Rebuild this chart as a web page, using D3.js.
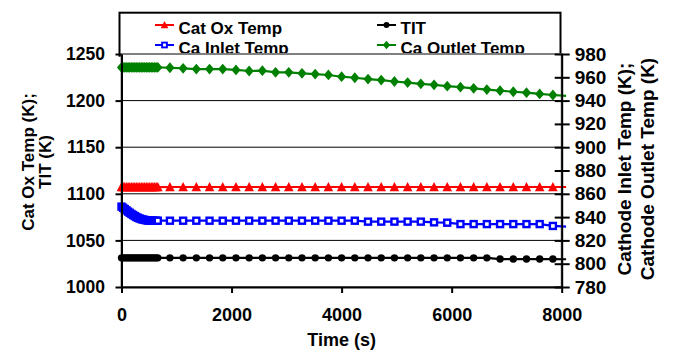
<!DOCTYPE html>
<html>
<head>
<meta charset="utf-8">
<script src="https://cdn.jsdelivr.net/npm/d3@7"></script>
<style>
  html, body { margin: 0; padding: 0; background: #fff; }
  svg { display: block; font-family: "Liberation Sans", Arial, sans-serif; font-weight: bold; }
</style>
</head>
<body>
<div id="chart"></div>
<script>
// time points (s): dense logging for the first minutes, then every 240 s
const times = [
  0, 30, 60, 90, 120, 150, 180, 210, 240, 270, 300, 330, 360, 390, 420, 450, 480, 510, 540, 570, 600, 630, 660,
  880, 1120, 1360, 1600, 1840, 2080, 2320, 2560, 2800, 3040, 3280, 3520, 3760, 4000, 4240, 4480, 4720, 4960,
  5200, 5440, 5680, 5920, 6160, 6400, 6640, 6880, 7120, 7360, 7600, 7840, 8080
];

// left axis (K)
const catOxTemp = [
  1107.2, 1107.2, 1107.2, 1107.2, 1107.2, 1107.2, 1107.2, 1107.2, 1107.2, 1107.2, 1107.2, 1107.2,
  1107.2, 1107.2, 1107.2, 1107.2, 1107.2, 1107.2, 1107.2, 1107.2, 1107.2, 1107.2, 1107.2,
  1107.3, 1107.3, 1107.3, 1107.3, 1107.3, 1107.3, 1107.3, 1107.3, 1107.3, 1107.3, 1107.3, 1107.3,
  1107.3, 1107.3, 1107.3, 1107.3, 1107.3, 1107.3, 1107.3, 1107.3, 1107.3, 1107.3, 1107.3, 1107.3,
  1107.3, 1107.3, 1107.3, 1107.3, 1107.3, 1107.3, 1107.3
];
const tit = [
  1031.3, 1031.3, 1031.3, 1031.3, 1031.3, 1031.3, 1031.3, 1031.3, 1031.3, 1031.3, 1031.3, 1031.3,
  1031.3, 1031.3, 1031.3, 1031.3, 1031.3, 1031.3, 1031.3, 1031.3, 1031.3, 1031.3, 1031.3,
  1031.3, 1031.3, 1031.3, 1031.3, 1031.3, 1031.3, 1031.3, 1031.3, 1031.3, 1031.3, 1031.3, 1031.3,
  1031.3, 1031.3, 1031.3, 1031.3, 1031.3, 1031.3, 1031.3, 1031.3, 1031.3, 1031.3, 1031.3, 1031.3,
  1031.3, 1030.0, 1030.0, 1030.0, 1030.0, 1030.0, 1029.8
];

// right axis (K)
const caInletTemp = [
  849.0, 848.0, 846.9, 845.8, 844.7, 843.7, 842.7, 841.8, 840.9, 840.1, 839.4, 838.8,
  838.3, 837.9, 837.6, 837.3, 837.1, 837.0, 836.9, 836.9, 836.9, 836.9, 836.9,
  836.9, 836.9, 836.9, 836.9, 836.9, 836.9, 836.9, 836.9, 836.9, 836.9, 836.9, 836.9,
  836.9, 836.9, 836.9, 836.1, 836.1, 836.1, 836.1, 836.1, 835.5, 835.2, 834.0, 834.0,
  834.0, 834.0, 834.0, 834.0, 834.0, 832.4, 831.8
];
const caOutletTemp = [
  968.5, 968.5, 968.5, 968.5, 968.5, 968.5, 968.5, 968.5, 968.5, 968.5, 968.5, 968.5,
  968.5, 968.5, 968.5, 968.5, 968.5, 968.5, 968.5, 968.5, 968.5, 968.5, 968.5,
  968.2, 967.7, 967.1, 967.1, 967.1, 966.3, 965.4, 965.7, 964.3, 964.3, 963.4, 962.8,
  962.0, 960.5, 959.6, 958.5, 957.6, 956.4, 955.5, 954.4, 953.5, 952.4, 951.5, 950.5,
  949.5, 948.5, 947.6, 946.8, 945.7, 944.8, 944.0
];

const xTicks = [0, 2000, 4000, 6000, 8000];
const leftTicks = [1000, 1050, 1100, 1150, 1200, 1250];
const rightTicks = [780, 800, 820, 840, 860, 880, 900, 920, 940, 960, 980];

const series = [
  { name: 'Cat Ox Temp', values: catOxTemp, axis: 'left', color: '#ff0000', marker: 'triangle' },
  { name: 'TIT', values: tit, axis: 'left', color: '#000000', marker: 'circle' },
  { name: 'Ca Inlet Temp', values: caInletTemp, axis: 'right', color: '#0000ff', marker: 'square' },
  { name: 'Ca Outlet Temp', values: caOutletTemp, axis: 'right', color: '#008000', marker: 'diamond' }
];

const W = 675, H = 351;
const plot = { left: 121.5, right: 561.7, top: 54, bottom: 287 };

const svg = d3.select('#chart').append('svg')
  .attr('width', W).attr('height', H);

const x = d3.scaleLinear().domain([0, 8000]).range([plot.left, plot.right]);
const yL = d3.scaleLinear().domain([1000, 1250]).range([plot.bottom, plot.top]);
const yR = d3.scaleLinear().domain([780, 980]).range([plot.bottom, plot.top]);

function drawMarker(g, type, color) {
  if (type === 'triangle') {
    g.append('path').attr('d', 'M0,-5L4.8,4.2L-4.8,4.2Z').attr('fill', color);
  } else if (type === 'circle') {
    g.append('circle').attr('r', 3.7).attr('fill', color);
  } else if (type === 'square') {
    g.append('rect').attr('x', -3).attr('y', -3).attr('width', 6).attr('height', 6)
      .attr('fill', '#fff').attr('stroke', color).attr('stroke-width', 2.4);
  } else if (type === 'diamond') {
    g.append('path').attr('d', 'M0,-5.4L4.6,0L0,5.4L-4.6,0Z').attr('fill', color);
  }
}

// legend (drawn first, the plot area covers its lower edge)
const legend = svg.append('g');
legend.append('rect')
  .attr('x', 119.5).attr('y', 12.7).attr('width', 441).attr('height', 43)
  .attr('fill', '#fff').attr('stroke', '#000').attr('stroke-width', 2);

const legendPos = [
  { lx: 155, ly: 25 }, { lx: 377, ly: 25 }, { lx: 155, ly: 45 }, { lx: 377, ly: 45 }
];
series.forEach((s, i) => {
  const p = legendPos[i];
  const g = legend.append('g');
  g.append('line')
    .attr('x1', p.lx).attr('x2', p.lx + 19).attr('y1', p.ly).attr('y2', p.ly)
    .attr('stroke', s.color).attr('stroke-width', 2);
  drawMarker(g.append('g').attr('transform', `translate(${p.lx + 9.5},${p.ly}) scale(0.8)`), s.marker, s.color);
  g.append('text')
    .attr('x', p.lx + 23.5).attr('y', p.ly + 8.6)
    .attr('font-size', 17).attr('fill', '#000')
    .text(s.name);
});

// plot area
svg.append('rect')
  .attr('x', plot.left).attr('y', plot.top)
  .attr('width', plot.right - plot.left).attr('height', plot.bottom - plot.top)
  .attr('fill', '#fff').attr('stroke', '#808080').attr('stroke-width', 2);

// gridlines on left axis
svg.append('g')
  .selectAll('line')
  .data(leftTicks.filter(d => d > 1000 && d < 1250))
  .enter()
  .append('line')
  .attr('x1', plot.left).attr('x2', plot.right)
  .attr('y1', d => yL(d)).attr('y2', d => yL(d))
  .attr('stroke', '#000').attr('stroke-width', 1);

// series
series.forEach(s => {
  const y = s.axis === 'left' ? yL : yR;
  const pts = times.map((t, i) => ({ t, v: s.values[i] }));
  const line = d3.line().x(d => x(d.t)).y(d => y(d.v));
  svg.append('path')
    .datum(pts)
    .attr('d', line)
    .attr('fill', 'none')
    .attr('stroke', s.color)
    .attr('stroke-width', 2.2);

  svg.append('g')
    .selectAll('g')
    .data(pts.filter(d => d.t <= 8000))
    .enter()
    .append('g')
    .attr('transform', d => `translate(${x(d.t)},${y(d.v)})`)
    .each(function() { drawMarker(d3.select(this), s.marker, s.color); });
});

// axes
function styleAxis(g, size) {
  g.select('.domain').attr('stroke', '#000').attr('stroke-width', 2);
  g.selectAll('.tick line').attr('stroke', '#000').attr('stroke-width', 2);
  g.selectAll('.tick text')
    .attr('fill', '#000')
    .attr('font-size', size)
    .attr('font-weight', 'bold')
    .attr('font-family', '"Liberation Sans", Arial, sans-serif');
}

const gx = svg.append('g')
  .attr('transform', `translate(0,${plot.bottom})`)
  .call(d3.axisBottom(x).tickValues(xTicks).tickFormat(d3.format('d')).tickSize(6).tickSizeOuter(0).tickPadding(15));
styleAxis(gx, 18);

const gl = svg.append('g')
  .attr('transform', `translate(${plot.left},0)`)
  .call(d3.axisLeft(yL).tickValues(leftTicks).tickFormat(d3.format('d')).tickSize(6).tickSizeOuter(0).tickPadding(10.5));
styleAxis(gl, 17.5);

const gr = svg.append('g')
  .attr('transform', `translate(${plot.right},0)`)
  .call(d3.axisRight(yR).tickValues(rightTicks).tickFormat(d3.format('d')).tickSize(8).tickSizeOuter(0).tickPadding(5));
gr.selectAll('.tick line').attr('x1', -7);
styleAxis(gr, 19);

// axis titles
svg.append('text')
  .attr('x', (plot.left + plot.right) / 2).attr('y', 346)
  .attr('text-anchor', 'middle').attr('font-size', 18)
  .text('Time (s)');

const leftTitle = svg.append('text')
  .attr('transform', 'translate(0,162) rotate(-90)')
  .attr('text-anchor', 'middle').attr('font-size', 17);
leftTitle.append('tspan').attr('x', 0).attr('y', 34).text('Cat Ox Temp (K);');
leftTitle.append('tspan').attr('x', 0).attr('y', 50.5).text('TIT (K)');

const rightTitle = svg.append('text')
  .attr('transform', 'translate(0,169) rotate(-90)')
  .attr('text-anchor', 'middle').attr('font-size', 19);
rightTitle.append('tspan').attr('x', 0).attr('y', 631).text('Cathode Inlet Temp (K);');
rightTitle.append('tspan').attr('x', 0).attr('y', 654).text('Cathode Outlet Temp (K)');
</script>
</body>
</html>
